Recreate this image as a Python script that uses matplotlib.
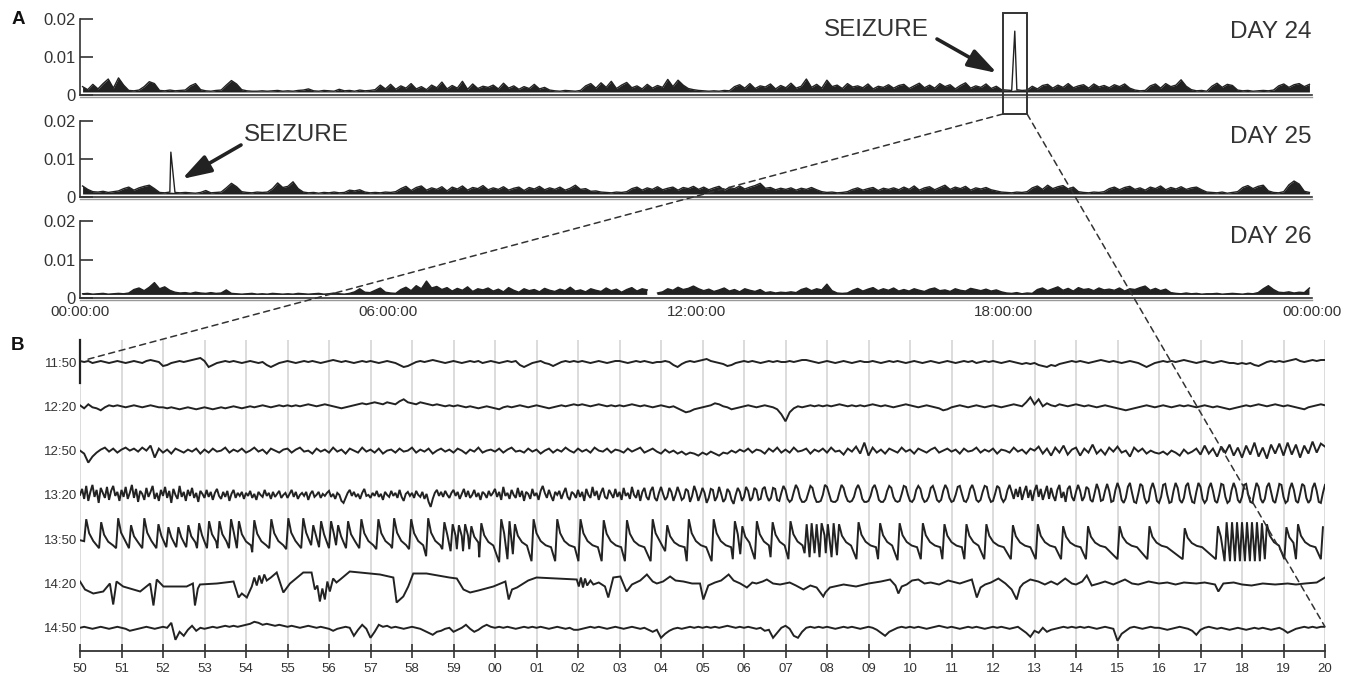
import numpy as np
import matplotlib
matplotlib.use("Agg")
import matplotlib.pyplot as plt
from matplotlib.patches import Rectangle, ConnectionPatch, FancyArrowPatch, ArrowStyle

plt.rcParams['font.family'] = ['Liberation Sans', 'DejaVu Sans']

# ---------------- DATA ----------------
# Panel A: activity level per 6-min bin (units of 0.001), 240 bins per day
day24 = [2.2,1.4,2.8,1.6,3.0,4.2,1.8,4.5,2.6,1.2, 1.1,1.3,2.2,3.5,3.0,1.2,1.1,1.3,1.1,1.2,
         1.3,2.4,3.0,1.4,1.1,1.0,1.2,1.3,2.6,3.8, 2.9,1.4,1.1,1.0,1.0,1.1,1.0,1.1,1.2,1.0,
         1.1,1.0,1.2,1.3,1.6,1.1,1.0,1.2,1.1,1.0, 1.5,1.1,1.2,1.0,1.3,1.1,1.2,1.4,2.6,1.6,
         2.8,1.5,2.4,1.8,3.0,1.6,2.2,1.4,2.6,1.9, 3.4,1.6,2.5,1.8,3.6,1.5,2.9,1.7,2.3,2.0,
         2.6,1.6,3.1,1.8,2.4,1.5,2.2,1.7,2.8,1.6, 2.0,1.3,1.1,1.0,1.2,1.1,1.0,1.2,2.4,3.0,
         1.8,3.2,2.0,3.6,1.7,2.6,3.3,1.9,2.4,1.6, 2.8,1.8,2.5,2.0,4.1,2.2,3.9,2.6,1.7,1.4,
         1.2,1.1,1.0,1.1,1.0,1.2,1.1,2.2,2.7,1.8, 3.0,1.7,2.4,2.1,2.9,1.6,2.5,1.9,3.1,1.8,
         2.3,4.2,2.0,2.8,1.8,3.9,2.2,2.6,1.7,3.0, 2.1,2.4,1.9,2.9,1.6,2.3,2.0,2.7,1.8,2.5,
         2.8,1.7,2.4,3.1,1.9,2.6,1.8,3.0,2.2,2.7, 1.6,2.5,3.2,1.8,2.4,2.0,2.9,1.7,2.3,1.4,
         1.3,1.2,1.4,1.2,1.3,2.3,1.6,2.5,2.8,1.8, 2.6,2.0,3.0,1.9,2.4,2.7,1.8,2.9,2.1,2.5,
         1.9,2.7,2.2,2.9,1.8,1.3,1.1,1.2,2.4,2.9, 1.8,3.0,2.2,2.6,4.0,2.3,1.4,1.1,1.2,1.0,
         2.3,3.1,2.0,2.8,2.5,1.3,1.1,1.2,1.0,1.1, 1.2,1.1,1.3,2.4,2.9,2.0,2.7,3.0,2.2,2.8]
day25 = [2.9,2.0,1.4,1.3,1.5,1.2,1.4,1.6,2.2,2.6, 1.8,2.4,2.8,3.1,2.2,1.2,1.1,1.3,1.2,1.1,
         1.2,1.1,1.0,1.2,1.7,1.1,1.2,1.3,2.4,3.6, 2.7,1.4,1.2,1.1,1.3,1.2,1.3,2.2,3.7,2.5,
         2.8,4.0,2.2,1.3,1.1,1.2,1.0,1.2,1.1,1.3, 1.1,1.2,1.8,1.6,1.9,1.3,1.1,1.2,1.1,1.3,
         1.2,1.4,2.2,2.8,1.7,2.5,2.9,1.8,2.4,2.0, 2.7,1.6,2.6,2.1,2.9,1.8,2.5,2.2,3.0,1.9,
         2.4,2.0,2.7,1.8,2.3,2.6,1.7,2.5,2.1,2.8, 1.9,2.4,2.0,2.6,1.8,2.3,3.1,2.0,2.2,1.5,
         1.6,1.3,1.2,1.1,1.3,1.2,1.4,2.2,2.6,1.8, 2.4,2.0,2.7,1.9,2.3,2.6,1.8,2.5,2.2,2.8,
         2.0,2.6,1.9,2.4,2.8,1.8,2.5,2.2,2.9,2.1, 2.6,3.0,3.6,2.3,2.5,1.9,2.3,2.0,2.4,1.8,
         2.3,2.0,2.5,1.9,1.4,1.2,1.3,1.1,1.2,1.4, 2.0,2.4,1.8,2.2,2.5,1.7,2.3,2.0,2.4,1.9,
         2.6,2.0,2.9,1.8,2.4,2.7,1.9,2.5,3.1,2.0, 2.6,2.2,2.8,1.8,2.4,2.1,2.5,1.9,1.6,1.3,
         1.2,1.1,1.3,1.2,1.4,2.4,2.9,2.0,3.1,2.2, 2.7,3.0,2.1,2.6,1.4,1.2,1.1,1.3,1.2,1.4,
         2.2,2.6,1.9,2.5,2.8,2.0,2.4,1.8,2.6,2.2, 2.9,1.9,2.5,2.1,2.7,2.0,2.4,2.6,1.9,1.3,
         1.2,1.1,1.3,1.0,1.2,1.4,2.5,3.0,2.2,2.8, 3.1,1.6,1.2,1.1,1.4,3.2,4.2,3.4,1.5,1.2]
day26 = [1.1,1.2,1.0,1.1,1.2,1.0,1.1,1.2,1.1,1.3, 2.2,2.6,1.9,2.8,4.0,2.4,2.9,2.0,1.5,1.3,
         1.4,1.2,1.5,1.3,1.2,1.4,1.2,1.3,2.1,1.2, 1.1,1.0,1.1,1.2,1.0,1.1,1.0,1.2,1.1,1.0,
         1.1,1.0,1.2,1.1,1.0,1.1,1.2,1.0,1.1,1.3, 1.1,1.0,1.2,1.6,2.4,1.5,1.4,2.0,2.6,1.5,
         1.3,1.2,2.2,2.8,1.9,3.2,2.4,4.4,2.6,3.0, 2.2,2.7,1.8,2.5,2.0,2.9,1.7,2.4,2.1,2.6,
         1.8,2.3,1.6,2.7,2.0,1.5,2.4,1.9,2.2,1.6, 2.5,2.0,1.7,2.3,1.9,2.8,1.8,2.1,1.6,2.4,
         2.0,1.7,2.6,1.9,2.3,1.5,2.2,2.7,1.8,2.4, 2.1,np.nan,1.3,1.6,2.4,2.0,2.8,2.2,2.5,3.1,
         2.4,1.9,2.3,1.7,2.1,2.6,1.8,2.2,1.6,2.4, 2.0,1.7,2.2,1.4,1.6,1.3,1.5,1.4,1.6,1.4,
         2.2,2.6,1.9,2.4,2.1,3.6,1.9,1.3,1.2,1.3, 2.0,2.5,1.8,2.3,2.7,1.9,2.4,2.0,2.6,1.8,
         2.2,1.8,2.4,2.0,1.7,2.3,2.6,1.9,2.1,1.7, 2.4,2.0,1.8,2.5,2.2,1.9,2.3,1.8,2.1,1.6,
         1.3,1.2,1.4,1.1,1.3,1.2,2.2,2.6,1.9,2.4, 2.9,2.0,2.5,1.8,2.7,2.2,2.4,1.9,2.6,2.1,
         2.3,2.0,2.6,1.8,2.4,2.2,2.7,3.1,2.0,2.5, 1.9,2.3,1.4,1.2,1.1,1.3,1.1,1.2,1.0,1.1,
         1.1,1.2,1.0,1.1,1.2,1.1,1.0,1.2,1.1,1.4, 2.4,3.2,2.2,1.5,1.4,1.6,1.3,1.5,1.4,2.6]
day_labels = ["DAY 24", "DAY 25", "DAY 26"]
seizure_hour = [18.21, 1.77, None]
seizure_peak = [0.0168, 0.0118, None]
top_xticks = [0, 6, 12, 18, 24]
top_xticklabels = ["00:00:00", "06:00:00", "12:00:00", "18:00:00", "00:00:00"]
top_yticks = [0, 0.01, 0.02]
top_yticklabels = ["0", "0.01", "0.02"]

# Panel B: EEG traces (amplitudes in display units, positive up)
row_labels = ["11:50", "12:20", "12:50", "13:20", "13:50", "14:20", "14:50"]
sec_labels = ["50","51","52","53","54","55","56","57","58","59","00","01","02","03","04",
              "05","06","07","08","09","10","11","12","13","14","15","16","17","18","19","20"]

row_1150 = [1,0,1,-1,0,1,0,-1,0,1, 0,-1,0,1,0,-1,1,2,1,0, -4,-3,-1,0,1,0,1,2,3,4,
            1,-5,-3,-1,0,1,0,1,0,-1, 0,1,0,-1,0,-3,-5,-3,-1,0, 1,0,-1,0,1,0,1,0,-1,0,
            1,2,1,0,1,0,-1,0,1,0, 1,0,-1,0,1,0,-1,-3,-5,-4, -2,0,1,0,1,2,1,0,-1,0,
            1,0,-1,0,1,0,1,-1,0,1, 0,-1,0,1,0,1,-3,-5,-3,-1, 0,1,-1,-2,-4,-2,0,1,0,1,
            0,1,0,-1,0,1,0,-1,0,1, 1,0,-1,0,1,0,1,0,-1,0, 0,1,0,-3,-5,-2,0,1,0,1,
            2,3,1,0,-1,-2,-4,-3,-1,0, 1,0,1,0,-1,0,1,0,1,0, 0,1,0,1,2,2,1,0,-1,0,
            1,0,-1,0,1,0,-1,0,1,0, 0,1,0,-1,0,1,0,1,0,-1, 0,1,0,-1,0,1,0,-1,0,1,
            0,-1,0,1,0,1,-1,0,1,0, 1,0,-1,0,1,0,-1,-2,-1,-2, -1,-3,-4,-5,-3,-4,-2,-1,0,1,
            0,1,0,-1,0,1,2,1,0,1, 0,-1,0,1,0,-1,-3,-5,-3,-1, 0,1,0,1,0,1,2,1,0,-1,
            0,1,0,-1,0,1,0,-1,-1,-2, -1,-2,-1,-3,-4,-2,0,1,0,1, 0,1,2,3,1,0,1,2,1,2, 2]
row_1220 = [1,-2,2,-1,-2,-4,-1,1,0,1, 0,-1,0,1,0,-1,0,1,0,-1, -1,-2,-1,-2,-3,-2,-1,-2,-3,-2,
            -1,-2,-3,-2,-1,-2,-1,0,-1,-2, -1,0,-1,0,1,0,-1,0,1,0, 1,0,1,0,1,2,1,0,1,2,
            1,0,-1,-2,-1,0,1,2,3,2, 3,4,3,2,4,3,2,5,7,4, 3,2,4,3,2,1,2,1,0,1,
            0,1,0,-1,0,-1,-2,-1,0,-1, -2,-3,-1,0,-1,0,1,0,-1,0, 1,0,-1,-2,-1,0,1,0,1,2,
            1,2,1,0,1,2,1,0,1,0, 1,0,1,2,1,0,1,0,-1,0, 1,0,-1,0,-2,-4,-6,-5,-3,-2,
            -1,0,1,3,2,0,-1,-3,-2,-1, 0,1,0,-1,0,1,0,-1,-3,-8, -15,-6,-2,0,-1,0,1,0,1,0,
            1,0,1,2,1,0,1,0,1,0, 1,2,1,0,1,0,-1,0,1,2, 1,0,-1,0,1,0,-1,-2,-4,-3,
            -1,0,1,0,-1,0,1,0,-1,0, 1,0,-1,0,1,2,1,0,4,9, 2,7,0,3,1,0,2,1,0,1,
            2,1,0,1,0,-1,0,1,0,-1, -2,-3,-4,-3,-2,-1,0,1,0,-1, 0,1,0,-1,0,1,0,1,0,-1,
            0,1,0,-1,0,-1,-2,-3,-2,-1, 0,1,0,1,2,1,0,1,2,1, 0,1,0,-1,-2,-3,-1,0,1,2, 1]
row_1250 = [0,-3,-12,-6,-2,1,3,-1,2,-2, 1,3,0,2,-1,3,0,5,-7,2, -2,1,-3,2,0,-2,1,-1,2,-3,
            1,-2,2,-1,0,3,-2,1,-1,2, -2,0,3,-1,1,-3,2,0,-2,1, 2,-2,1,3,-1,0,-3,2,-1,1,
            -2,3,-1,1,-3,2,0,-2,3,-1, 1,-2,2,-3,0,1,-2,2,-1,0, 3,-2,1,-1,2,-3,0,2,-1,1,
            -2,2,0,-3,1,-1,3,-2,0,1, -1,2,-2,1,3,-1,0,-2,2,-1, 1,-3,0,2,-2,1,-1,3,0,-2,
            2,-1,1,-2,3,0,-1,2,-2,1, 0,-2,2,-1,1,3,-2,0,2,-1, -3,1,-2,0,-3,-1,-4,-2,-3,-5,
            -2,-4,-1,-3,-5,-2,-3,0,-2,1, -1,2,-2,1,0,-3,2,-1,3,-2, 1,-2,3,-1,0,2,-3,1,-1,2,
            -2,3,-1,0,-4,2,-1,4,-3,8, -5,3,-2,1,-3,2,0,-2,3,-1, 1,-3,2,0,-2,1,3,-2,0,2,
            -1,1,-3,2,-1,0,3,-2,1,-1, 2,-3,1,0,-2,3,-1,1,-3,2, 0,4,-3,2,-5,3,-2,5,-4,1,
            3,-5,2,-2,6,-3,1,-4,3,-1, 4,-2,0,-6,3,-1,2,-3,0,-2, -3,-1,-4,0,-2,-5,1,-3,-1,2,
            -4,5,-3,2,-6,4,-2,6,-5,3, -7,5,-4,8,-6,3,-8,6,-3,7, -5,8,-4,6,-7,5,-3,9,-2,7, 4]
row_1320 = [0,6,-4,9,-6,3,10,-2,5,-8,7,2,-3,8,-5,4,9,-1,3,-6,
            5,-2,8,-4,2,10,-3,6,-7,4,1,-5,7,-2,3,9,-4,2,-6,5,
            -1,8,-3,4,-8,6,0,-4,9,-2,3,-6,5,-1,7,-3,2,-7,4,1,
            -3,5,-2,3,-5,2,6,-1,-4,3,-2,4,-6,1,5,-3,2,-1,3,-4,
            2,-1,4,-3,1,-5,3,0,-2,5,-1,2,-4,3,-2,1,4,-3,0,2,
            -3,1,5,-2,3,-4,0,2,-1,3,-5,1,4,-2,0,3,-3,1,-1,2,
            4,-2,1,-4,2,0,-6,-8,-3,2,5,-1,3,-2,1,-4,2,6,-1,0,
            -3,2,-1,4,-2,1,-5,3,0,-2,4,-1,2,-3,5,-2,-6,1,3,-1,
            2,-3,4,0,-2,3,-4,1,-7,-12,-4,2,5,-1,3,-2,4,0,-3,2,
            5,-1,3,-4,1,6,-2,4,-3,0,5,-2,2,-5,3,1,-3,4,-1,2,
            6,-2,3,-5,8,-1,2,-4,5,0,-3,7,-2,4,-6,3,1,-4,6,-1,
            2,-5,4,9,2,-3,5,-1,-6,3,0,4,-4,2,7,-2,-5,3,1,-3,
            5,-2,3,-6,6,0,-3,8,-1,4,-5,2,7,-2,-4,5,1,-3,6,-2,
            3,-5,7,-1,2,-4,8,0,-3,5,-6,3,7,-2,-5,4,8,-3,-6,2,
            8,1,-5,-2,7,3,-6,0,8,2,-5,-3,6,4,-7,-1,9,3,-6,0,
            7,2,-8,-3,6,5,-6,-2,8,1,-7,-4,6,3,-5,-9,0,7,3,-6,
            -2,8,4,-6,-3,7,5,-5,-4,6,8,-1,-6,-3,7,6,-5,-6,2,9,
            5,-4,-7,-5,3,10,6,-3,-7,-7,-5,2,9,7,-2,-7,-7,-6,0,10,
            8,1,-6,-7,-7,-5,3,10,7,-1,-6,-7,-6,-2,6,10,5,-4,-7,-7,
            -6,-1,7,10,4,-5,-7,-7,-4,4,9,7,-2,-6,-7,-6,1,9,8,0,
            -6,-7,-4,5,9,6,-3,-7,-6,-2,7,9,3,-5,-7,-5,4,10,6,-3,
            -7,-6,0,8,9,1,-6,-7,-3,6,10,4,-5,-7,-5,3,9,8,-2,-7,
            -6,1,9,7,-3,-7,-4,5,10,3,-4,6,-2,8,-5,3,9,-3,5,-6,
            4,10,-2,6,-5,2,9,-4,7,-1,-6,5,10,-3,3,-7,6,9,-2,-6,
            3,10,4,-6,-2,8,6,-5,-7,2,11,5,-6,-5,4,11,4,-7,-6,5,
            12,6,-5,-8,-3,8,12,2,-7,-8,1,11,9,-3,-8,-6,6,12,5,-6,
            -8,-2,10,11,0,-8,-7,4,12,7,-5,-8,-3,9,12,1,-7,-8,3,12,
            8,-4,-8,-5,7,12,4,-6,-8,0,11,10,-2,-8,-6,5,12,6,-5,-8,
            -2,10,11,0,-7,-8,3,12,8,-4,-8,-4,8,12,3,-6,-8,1,11,10,
            -2,-8,-6,6,12,5,-6,-8,1,11,9,-3,-8,-5,7,12,4,-7,-8,2, 10]
# 13:50 spike events: (second, peak height, dip before the rise)
row_1350_events = [
    (0.12,20,-2),(0.48,17,-9),(0.89,21,-9),(1.2,14,-9),(1.52,21,-9),(1.86,15,-9),(2.1,12,-8),
    (2.34,12,-8),(2.58,14,-8),(2.84,16,-9),(3.08,18,-9),(3.33,18,-9),(3.61,20,-9),(3.8,18,-9),
    (4.17,19,-13),(4.58,20,-9),(4.99,21,-10),(5.35,21,-9),(5.59,14,-6),(5.78,18,-8),(6.02,18,-9),
    (6.19,14,-6),(6.43,18,-9),(6.75,20,-9),(7.16,20,-10),(7.54,21,-9),(7.95,20,-10),(8.36,21,-17),
    (8.75,17,-10),(8.95,15,-12),(9.1,14,-10),(9.25,15,-12),(9.4,13,-10),(9.64,16,-18),(10.12,20,-23),
    (10.32,18,-20),(10.45,15,-15),(10.9,20,-22),(11.47,20,-22),(12.03,20,-22),(12.59,19,-22),
    (13.15,19,-22),(13.77,20,-22),(14.12,14,-12),(14.64,20,-22),(15.24,20,-22),(15.75,18,-20),
    (15.93,13,-15),(16.28,18,-20),(16.66,17,-18),(17.09,18,-20),(17.48,15,-14),(17.6,16,-18),
    (17.72,15,-14),(17.84,16,-18),(17.99,15,-14),(18.13,16,-18),(18.26,15,-16),(18.73,17,-20),
    (19.25,16,-20),(19.72,16,-21),(20.28,16,-20),(20.8,15,-20),(21.33,15,-20),(21.81,15,-20),
    (22.45,14,-20),(23.05,15,-20),(23.66,13,-20),(24.26,13,-20),(25.02,13,-20),(25.74,13,-20),
    (26.59,11,-20),(27.39,13,-20),(27.6,17,-22),(27.73,17,-22),(27.85,17,-22),(27.97,17,-22),
    (28.09,17,-22),(28.21,17,-22),(28.33,17,-22),(28.45,16,-22),(28.57,15,-20),(29.04,12,-20),
    (29.32,15,-20),(29.92,12,-20)]
# 14:20 trace vertices: (second, amplitude)
row_1420_points = [
    (0.0,2),(0.12,-6),(0.32,-10),(0.56,-8),(0.72,0),(0.8,-21),(0.88,2),(1.04,-3),(1.45,-8),(1.69,0),
    (1.77,-22),(1.85,4),(2.01,-3),(2.57,-3),(2.72,0),(2.77,-22),(2.84,-5),(2.89,-1),(3.3,0),(3.7,2),
    (3.82,-14),(3.9,-10),(4.02,-14),(4.14,-3),(4.2,6),(4.26,-2),(4.32,8),(4.38,0),(4.44,9),(4.5,3),
    (4.6,6),(4.74,11),(4.9,-9),(5.06,0),(5.38,11),(5.58,11),(5.66,-6),(5.72,-2),(5.78,-18),(5.84,-5),
    (5.9,-16),(5.96,2),(6.02,-8),(6.1,5),(6.18,1),(6.27,4),(6.5,12),(7.23,9),(7.55,6),(7.63,-19),
    (7.79,-13),(7.91,-3),(8.03,10),(8.35,10),(8.9,6),(9.08,5),(9.24,-6),(9.4,-9),(9.6,-7),(9.96,-3),
    (10.25,2),(10.33,-16),(10.41,-6),(10.53,-4),(10.8,3),(11.0,6),(11.5,5),(11.97,4),(12.02,-3),
    (12.07,6),(12.12,-4),(12.17,5),(12.22,-2),(12.3,3),(12.37,-1),(12.5,1),(12.65,-3),(12.73,-14),
    (12.85,6),(13.02,7),(13.17,-8),(13.3,-1),(13.5,3),(13.66,9),(13.8,2),(13.9,0),(14.05,2),
    (14.22,7),(14.35,3),(14.54,2),(14.75,0),(14.94,0),(15.02,-16),(15.14,-2),(15.3,1),(15.45,3),
    (15.63,9),(15.75,3),(15.91,0),(16.07,-4),(16.2,1),(16.3,0),(16.45,2),(16.55,4),(16.7,0),
    (16.87,-1),(17.1,1),(17.25,-2),(17.43,-6),(17.6,-2),(17.75,-4),(17.91,-13),(17.96,-9),
    (18.07,-4),(18.4,-1),(18.7,-3),(19.0,0),(19.3,2),(19.52,4),(19.65,-2),(19.72,-10),(19.8,-3),
    (19.92,-1),(20.05,3),(20.2,4),(20.35,0),(20.5,1),(20.7,-1),(20.92,3),(21.2,0),(21.49,4),
    (21.61,-14),(21.7,-4),(21.81,-1),(21.95,1),(22.13,5),(22.3,0),(22.45,-6),(22.57,-16),(22.65,-4),
    (22.73,0),(22.9,4),(23.09,2),(23.25,-1),(23.4,2),(23.55,-1),(23.74,5),(23.9,0),(24.0,-1),
    (24.15,2),(24.26,8),(24.38,-2),(24.55,0),(24.7,2),(24.9,-1),(25.18,4),(25.35,0),(25.5,-1),
    (25.75,2),(26.0,0),(26.2,1),(26.4,-1),(26.6,1),(26.9,0),(27.1,1),(27.35,-1),(27.43,-8),
    (27.55,0),(27.8,1),(28.0,-1),(28.23,-2),(28.5,0),(28.8,-1),(29.1,0),(29.3,-1),(29.52,0),
    (29.8,1),(30.0,6)]
row_1450 = [0,1,0,-1,0,1,0,-1,0,1, 0,-1,-3,-2,-1,0,1,0,-1,0, 1,0,5,-12,-4,-8,-2,2,-3,0,
            -1,0,1,0,1,2,1,2,1,2, 3,4,6,5,3,4,3,2,3,2, 1,2,1,0,1,2,1,0,1,0,
            -1,-3,-1,0,1,0,-8,-2,3,-1, -10,-4,3,1,2,0,1,0,-1,0, 1,0,-1,-3,-5,-7,-4,-3,-1,0,
            -4,-2,0,3,-1,-4,-2,1,3,1, 0,1,0,1,0,-1,0,1,0,1, 0,1,0,-1,0,1,0,-1,0,-2,
            -2,-1,0,1,0,1,0,-1,0,1, 0,-1,0,1,0,-1,0,-2,-4,-2, -10,-6,-3,-1,0,-1,0,1,0,1,
            0,1,0,1,0,1,2,1,0,1, 0,1,0,-1,0,-3,-2,-10,-5,0, 2,-1,-8,-10,-4,0,1,0,1,0,
            1,0,-1,0,1,0,1,0,-1,0, 1,0,-2,-5,-8,-4,-2,0,1,0, 1,0,1,0,-1,0,1,2,1,0,
            1,0,-1,0,1,0,1,0,-1,0, 1,0,1,0,-1,0,1,-2,-5,-9, -3,-5,0,-4,-2,-1,0,1,0,1,
            0,1,0,1,0,-1,0,1,0,-1, -13,-6,-3,0,1,0,-1,0,1,0, 0,-1,-2,-1,0,1,0,-1,-3,-7,
            -2,0,1,0,-1,0,-1,-2,-1,0, -1,-2,-1,0,-1,0,-1,-2,-1,0, -2,-5,-3,-1,0,1,0,1,0,1, 1]

# ---------------- LAYOUT ----------------
W, H = 1352, 679
INK = '#222222'
TXT = '#333333'
fig = plt.figure(figsize=(W / 100, H / 100), dpi=100)


def fx(x):
    return x / W


def fy(y):
    return 1 - y / H


def add_px_axes(x0, y0, x1, y1):
    return fig.add_axes([fx(x0), fy(y1), (x1 - x0) / W, (y1 - y0) / H])


panel_px = [(19, 95), (121, 197), (221, 298)]
hours = (np.arange(240) + 0.5) * 0.1
top_axes = []
for k, (vals, (ytop, ybot)) in enumerate(zip([day24, day25, day26], panel_px)):
    ax = add_px_axes(80, ytop, 1312, ybot)
    top_axes.append(ax)
    y = np.array(vals, dtype=float) * 1e-3
    ok = np.isfinite(y)
    ax.fill_between(hours, 0.0008, np.where(ok, y, 0.0008), where=ok,
                    color=INK, lw=0, interpolate=False)
    xs, ys = hours, y
    if seizure_hour[k] is not None:
        idx = np.searchsorted(hours, seizure_hour[k])
        xs = np.insert(hours, idx, seizure_hour[k])
        ys = np.insert(y, idx, seizure_peak[k])
    ax.plot(xs, ys, color=INK, lw=1.0)
    ax.set_xlim(0, 24)
    ax.set_ylim(0, 0.02)
    for s in ['top', 'right']:
        ax.spines[s].set_visible(False)
    for s in ['left', 'bottom']:
        ax.spines[s].set_color('#333333')
        ax.spines[s].set_linewidth(1.2)
    ax.axhline(-0.0006, color='#999999', lw=1.0, clip_on=False)
    ax.set_yticks(top_yticks)
    ax.set_yticklabels(top_yticklabels)
    ax.tick_params(axis='y', direction='in', length=9, width=1.2, colors='#333333',
                   labelsize=12, pad=3, labelcolor=TXT)
    if k == 2:
        ax.set_xticks(top_xticks)
        ax.set_xticklabels(top_xticklabels)
        ax.tick_params(axis='x', length=0, labelsize=11, pad=5, labelcolor=TXT)
    else:
        ax.set_xticks([])
    ax.patch.set_alpha(0)
    fig.text(fx(1312), fy([32, 137, 237][k]), day_labels[k], ha='right', va='center',
             fontsize=17.5, color=TXT)

# zoom box on day 24
ax1 = top_axes[0]
box_x0, box_x1 = 17.98, 18.45
box_y0, box_y1 = -0.005, 0.0216
ax1.add_patch(Rectangle((box_x0, box_y0), box_x1 - box_x0, box_y1 - box_y0, fill=False,
                        ec='#333333', lw=1.4, clip_on=False, zorder=5))

# ---- panel B ----
axB = add_px_axes(80, 340, 1325, 651)
spacing = 44.3
bases = [-k * spacing for k in range(7)]


def spike_train(events, floor=-8.0):
    ts, vs = [0.0], [-1.0]
    decay = ((0.1, 0.5), (0.2, 0.22), (0.32, 0.07), (0.45, 0.0))
    for i, (t, p, d) in enumerate(events):
        nxt = events[i + 1][0] if i + 1 < len(events) else 30.0
        ts += [t - 0.02, t + 0.03]
        vs += [d, p]
        for dt, frac in decay:
            if t + dt < nxt - 0.04:
                ts.append(t + dt)
                vs.append(floor + frac * (p - floor))
    return np.array(ts), np.array(vs)


rows = []
for vals, rate in [(row_1150, 10), (row_1220, 10), (row_1250, 10), (row_1320, 20)]:
    rows.append((np.arange(len(vals)) / rate, np.array(vals, float)))
rows.append(spike_train(row_1350_events))
p = np.array(row_1420_points, float)
rows.append((p[:, 0], p[:, 1]))
rows.append((np.arange(len(row_1450)) / 10, np.array(row_1450, float)))

for (t, v), b in zip(rows, bases):
    axB.plot(t, b + v, color=INK, lw=1.4, solid_joinstyle='miter', zorder=3)

axB.set_xlim(0, 30)
axB.set_ylim(-289, 22)
axB.set_xticks(range(31))
axB.set_xticklabels(sec_labels)
axB.set_yticks(bases)
axB.set_yticklabels(row_labels)
axB.tick_params(axis='x', direction='inout', length=10, width=1.2, colors='#333333',
                labelsize=9.5, pad=4, labelcolor=TXT)
axB.tick_params(axis='y', length=0, pad=2, labelsize=9.5, labelcolor=TXT)
axB.grid(True, axis='x', color='#d6d6d6', lw=1.2, zorder=0)
axB.set_axisbelow(True)
for s in ['top', 'right', 'left']:
    axB.spines[s].set_visible(False)
axB.spines['bottom'].set_color('#333333')
axB.spines['bottom'].set_linewidth(1.3)
axB.plot([0, 0], [22, -21], color=INK, lw=1.6, clip_on=False, zorder=4)
axB.patch.set_alpha(0)

# dashed zoom connectors
for xa, xb, yb in [(box_x0, 0.12, bases[0] + 2), (box_x1, 30.0, bases[6] + 1)]:
    con = ConnectionPatch(xyA=(xa, box_y0), coordsA=ax1.transData,
                          xyB=(xb, yb), coordsB=axB.transData,
                          color='#333333', lw=1.1, linestyle=(0, (4, 3)), zorder=6)
    fig.add_artist(con)

# seizure annotations
style = ArrowStyle('-|>', head_length=1.1, head_width=0.35)
for (tx, ty), (a0, a1) in [((876, 30), ((937, 39), (997, 73))),
                           ((296, 135), ((241, 145), (182, 179)))]:
    fig.text(fx(tx), fy(ty), "SEIZURE", ha='center', va='center', fontsize=17.5, color=TXT)
    arr = FancyArrowPatch((fx(a0[0]), fy(a0[1])), (fx(a1[0]), fy(a1[1])),
                          transform=fig.transFigure, arrowstyle=style, mutation_scale=16,
                          lw=2.6, color=INK, shrinkA=0, shrinkB=0)
    fig.add_artist(arr)

fig.text(fx(18), fy(19), "A", ha='center', va='center', fontsize=13.5, weight='bold', color='#111111')
fig.text(fx(18), fy(346), "B", ha='center', va='center', fontsize=13.5, weight='bold', color='#111111')

fig.savefig("out.png", dpi=100)
